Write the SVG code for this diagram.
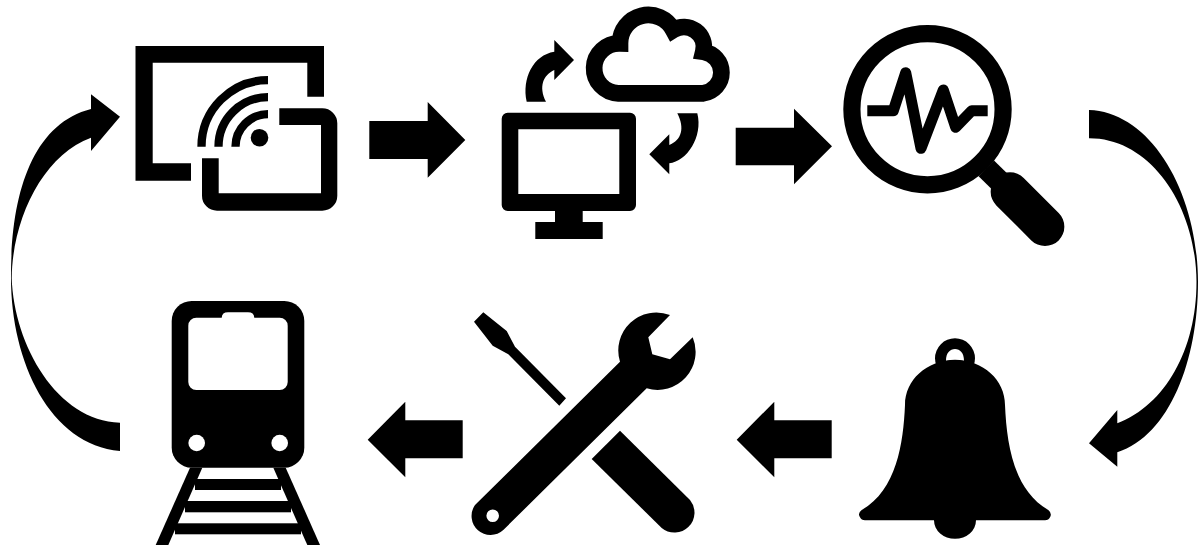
<svg xmlns="http://www.w3.org/2000/svg" width="1199" height="549" viewBox="0 0 1199 549">
<style>
.k{fill:#000}
.w{fill:#fff}
.s{fill:none;stroke:#000}
</style>
<rect width="1199" height="549" class="w"/>
<g id="connectors" class="k">
<path id="arrow-cast-cloud" d="M369.3 121H427.7V102L465.3 140L427.7 177.7V159H369.3Z"/>
<path id="arrow-cloud-search" d="M735.7 127.7H794V108.7L832 146.3L794 184.3V165.3H735.7Z"/>
<path id="arrow-search-bell" d="M1089 110C1150 112 1197.5 190 1198 281.7C1198 360 1170 435 1117.3 452.3V466.7L1089 443.3L1117.3 410V423.3C1165 405 1196.5 350 1196.5 281.7C1196 205 1150 138 1089 138.3Z"/>
<path id="arrow-bell-tools" d="M831.7 420.3H774.3V401.7L736.7 439.7L774.3 477.3V458.3H831.7Z"/>
<path id="arrow-tools-train" d="M462.7 420.3H405.3V401.7L367.7 439.7L405.3 477.3V458.3H462.7Z"/>
<path id="arrow-train-cast" d="M120 451C50 445 11 361.7 11 278.3C10.5 195 32 124 91 109V94.3L120 116.7L91 151V137.7C43.3 155 12.3 218.3 11.7 278.3C14 345 57 421 120 422.7Z"/>
</g>
<g id="node-cast">
<path class="k" d="M191 180.7H135.5V46H324V96.7H307.3V62.7H152.7V163.3H191Z"/>
<path class="k" d="M279.3 108.3H322.3A15 15 0 0 1 337.3 123.3V195.7A15 15 0 0 1 322.3 210.7H217A15 15 0 0 1 202 195.7V158.3H218.7V193.3H321V125H279.3Z"/>
<g class="s" stroke-width="8.3">
<path d="M201.5 146.7A66.5 66.5 0 0 1 268 80.2"/>
<path d="M218.5 146.7A49.5 49.5 0 0 1 268 97.2"/>
<path d="M235.5 146.7A32.5 32.5 0 0 1 268 114.2"/>
</g>
<circle class="k" cx="259.5" cy="137.7" r="8.8"/>
</g>
<g id="node-cloud">
<path class="k" fill-rule="evenodd" d="M507.7 112.7H630A6 6 0 0 1 636 118.7V205A6 6 0 0 1 630 211H582.7V222H602.7V239H535.3V222H555V211H507.7A6 6 0 0 1 501.7 205V118.7A6 6 0 0 1 507.7 112.7ZM518.3 129.3V194H619.3V129.3Z"/>
<path class="s" stroke-width="16.7" d="M618.3 93.3A25 25 0 0 1 620 43.3A28.3 28.3 0 0 1 673.3 30A20 20 0 0 1 703.3 51.7A21 21 0 0 1 703.3 93.3Z"/>
<path class="k" d="M526.7 101.7C521.7 78.3 533.3 55 554.3 51.7V40L574 60L554.3 80V70C543.3 75 538.3 86.7 546 101.7Z"/>
<path class="k" d="M677.3 113.3H697.3C703.3 136.7 686.7 161.7 669.3 163.3V174.3L649.3 154.3L669.3 134.3V145C681.7 140 685 128.3 677.3 113.3Z"/>
</g>
<g id="node-search">
<circle class="s" cx="927.5" cy="109.2" r="75.6" stroke-width="17.2"/>
<path class="s" stroke-width="22" d="M986.3 168.3L1010 191.7"/>
<path class="s" stroke-width="38.7" stroke-linecap="round" d="M1010 191.7L1045 226.7"/>
<path class="s" stroke-width="11" stroke-linejoin="round" d="M867.3 110.7H893.3L905.7 72.7L921 148.3L943.3 90L955.7 127.3L971.7 110.7H987.7"/>
</g>
<g id="node-bell">
<path class="k" fill-rule="evenodd" d="M935 358.3A20 20 0 0 1 975 358.3A20 20 0 0 1 935 358.3ZM946 360.7C946 353 950 349 955 349C960 349 964 353 964 360.7Q955 359 946 360.7Z"/>
<path class="k" d="M955 360C926.7 360 905 380 905 405C903.3 443.3 896.7 490 861.7 510Q857.3 513.3 860 517.3Q861.3 520.3 865 520.3H934A21 18.5 0 0 0 976 520.3H1045Q1048.7 520.3 1050 517.3Q1052.3 513.3 1048.3 510C1013.3 490 1006.7 443.3 1005 405C1005 380 983.3 360 955 360Z"/>
</g>
<g id="node-tools">
<path class="k" d="M474 321.7L483.3 312.3L506.7 331L515 346.7L566 398.3L559.3 405.7L508.3 354.3L492.7 345.7Z"/>
<path class="k" d="M620 430.7L690 500A20 20 0 0 1 661.7 528L591.7 459Z"/>
<path class="k" fill-rule="evenodd" d="M670 315A38 38 0 0 0 620 361.7L475 505A19 19 0 0 0 503.3 530L646.7 388.3A38 38 0 0 0 692.7 337.3L670 359.3L652.3 354.3L648.3 337.3ZM486.4 515.7A6.3 6.3 0 0 0 499 515.7A6.3 6.3 0 0 0 486.4 515.7Z"/>
</g>
<g id="node-train">
<rect class="k" x="171.7" y="301" width="132.6" height="166.7" rx="20"/>
<path class="w" d="M196.3 317.7H221.7Q222 312.3 228 312.3H248Q254 312.3 254.3 317.7H279.7A8 8 0 0 1 287.7 325.7V382A8 8 0 0 1 279.7 390H196.3A8 8 0 0 1 188.3 382V325.7A8 8 0 0 1 196.3 317.7Z"/>
<circle class="w" cx="196.7" cy="443" r="8.3"/>
<circle class="w" cx="279.7" cy="443" r="8.3"/>
<path class="k" d="M190 467.7H202.3L168.3 545H155.7Z"/>
<path class="k" d="M273.3 467.7H285.7L320 545H307.3Z"/>
<rect class="k" x="195" y="479" width="86" height="11"/>
<rect class="k" x="185" y="501" width="106" height="11.3"/>
<rect class="k" x="175" y="523.3" width="126" height="11"/>
</g>
</svg>
